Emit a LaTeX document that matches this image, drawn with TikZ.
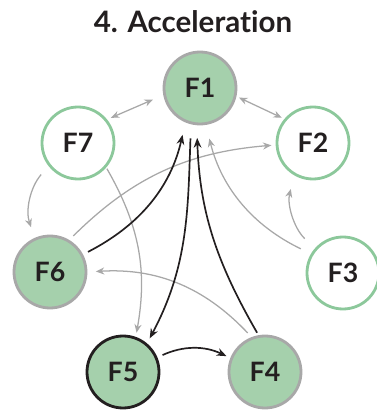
\documentclass[tikz,border=0pt]{standalone}
\usepackage{fontspec}
\setmainfont{Lato}[Ligatures=NoCommon]
\usetikzlibrary{arrows.meta}
\definecolor{leaf}{RGB}{165,208,172}
\definecolor{rim}{RGB}{140,200,155}
\definecolor{ash}{RGB}{168,168,168}
\definecolor{ink}{RGB}{35,31,32}
\tikzset{
  fnode/.style={shape=circle,minimum size=1.8cm,line width=2pt,inner sep=0pt,font=\fontsize{19}{22}\selectfont\bfseries,text=ink},
  full/.style={fnode,draw=ash,fill=leaf},
  ring/.style={fnode,draw=rim,fill=white},
  lead/.style={fnode,draw=ink,fill=leaf},
  glink/.style={draw=ash,line width=0.9pt,-{Stealth[length=6pt,width=5pt]}},
  gboth/.style={draw=ash,line width=0.9pt,{Stealth[length=6pt,width=5pt]}-{Stealth[length=6pt,width=5pt]}},
  blink/.style={draw=ink,line width=1.2pt,-{Stealth[length=7pt,width=5.5pt]}},
}
\begin{document}
\begin{tikzpicture}
	\useasboundingbox (0,0) rectangle (9.4,10.3);
	\node[font=\fontsize{21}{24}\selectfont\bfseries,text=ink] (title) at (4.825,9.75) {4. Acceleration};

	\node[full] (F1) at (5.0,8.1) {F1};
	\node[ring] (F2) at (7.825,6.725) {F2};
	\node[ring] (F3) at (8.575,3.475) {F3};
	\node[full] (F4) at (6.625,1.0) {F4};
	\node[lead] (F5) at (3.075,1.0) {F5};
	\node[full] (F6) at (1.25,3.5) {F6};
	\node[ring] (F7) at (1.95,6.725) {F7};

	\draw[gboth,shorten <=3pt,shorten >=8pt] (F7.39) -- (F1.191);
	\draw[gboth,shorten <=2pt,shorten >=2pt] (F1.347) -- (F2.140);
	\draw[glink,shorten <=8pt,shorten >=8pt] (F7.218) to[bend right=30] (F6.114);
	\draw[glink,shorten <=1pt,shorten >=3pt] (F7.319) to[bend left=20] (F5.70);
	\draw[glink,shorten <=4pt,shorten >=3pt] (F6.59) to[bend left=20] (F2.183);
	\draw[glink,shorten <=8pt,shorten >=10pt] (F3.149) to[bend left=25] (F1.279);
	\draw[glink,shorten <=10pt,shorten >=10pt] (F3.139) to[bend left=30] (F2.240);
	\draw[glink,shorten <=4pt,shorten >=6pt] (F4.111) to[bend right=25] (F6.0);

	\draw[blink,shorten <=4pt,shorten >=9pt] (F6.28) to[bend right=25] (F1.247);
	\draw[blink,shorten <=10pt,shorten >=4pt] (F1.256) to[out=268,in=62] (F5.50);
	\draw[blink,shorten <=2pt,shorten >=9pt] (F4.100) to[out=120,in=272] (F1.265);
	\draw[blink,shorten <=4pt,shorten >=3pt] (F5.23) to[bend left=25] (F4.158);
\end{tikzpicture}
\end{document}
